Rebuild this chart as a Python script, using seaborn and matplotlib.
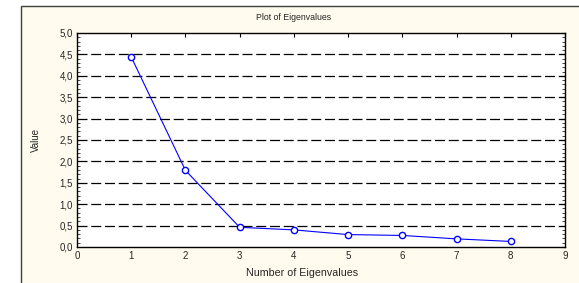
import numpy as np
import pandas as pd
import matplotlib
matplotlib.use("Agg")
import matplotlib.pyplot as plt
import seaborn as sns
from matplotlib.ticker import MultipleLocator, FuncFormatter
from matplotlib.patches import Rectangle

# data
n_eigen = [1, 2, 3, 4, 5, 6, 7, 8]
eigen_values = [4.44, 1.79, 0.46, 0.40, 0.29, 0.27, 0.19, 0.13]
y_ticks = [0.0, 0.5, 1.0, 1.5, 2.0, 2.5, 3.0, 3.5, 4.0, 4.5, 5.0]
x_ticks = [0, 1, 2, 3, 4, 5, 6, 7, 8, 9]

df = pd.DataFrame({"n": n_eigen, "value": eigen_values})

sns.set_style("white")
plt.rcParams['font.family'] = ['Liberation Sans', 'DejaVu Sans']

fig = plt.figure(figsize=(5.79, 2.83), dpi=100)
fig.patch.set_facecolor("white")

# cream panel with border on left/top
W, H = 579, 283
fig.patches.append(Rectangle((21 / W, -0.05), 1.2, (H - 6) / H + 0.05,
                             transform=fig.transFigure, facecolor="#fffbee",
                             edgecolor="#404040", linewidth=1.0, zorder=-5))

ax = fig.add_axes([77 / W, 1 - 247 / H, (565 - 77) / W, (247 - 33) / H])
ax.set_zorder(2)
ax.set_facecolor("white")

for yv in y_ticks[1:-1]:
    ax.axhline(yv, color="black", linestyle=(0, (8, 3)), linewidth=0.9, zorder=1)

sns.lineplot(data=df, x="n", y="value", ax=ax, color="blue", linewidth=0.8,
             marker="o", markersize=4.5, markerfacecolor="white",
             markeredgecolor="blue", markeredgewidth=1.0, zorder=3)

ax.set_xlim(0, 9)
ax.set_ylim(0, 5)
ax.set_xticks(x_ticks)
ax.set_yticks(y_ticks)
ax.yaxis.set_minor_locator(MultipleLocator(0.1))
ax.yaxis.set_major_formatter(FuncFormatter(lambda v, p: f"{v:.1f}".replace(".", ",")))

ax.tick_params(axis="both", which="major", direction="in", length=3, width=0.8,
               labelsize=7, top=True, right=True, pad=3, color="black")
ax.tick_params(axis="y", which="minor", direction="in", length=2, width=0.6,
               left=True, right=True)

for s in ax.spines.values():
    s.set_color("black")
    s.set_linewidth(1.0)

ax.set_xlabel("")
ax.set_ylabel("")
fig.text(302 / W, 1 - 273 / H, "Number of Eigenvalues", fontsize=7.7,
         ha="center", va="center")
fig.text(36 / W, 1 - 140 / H, "Value", fontsize=7, rotation=90,
         ha="center", va="center")
fig.text(294 / W, 1 - 18 / H, "Plot of Eigenvalues", fontsize=6.3,
         ha="center", va="center")

fig.savefig("out.png", dpi=100)
